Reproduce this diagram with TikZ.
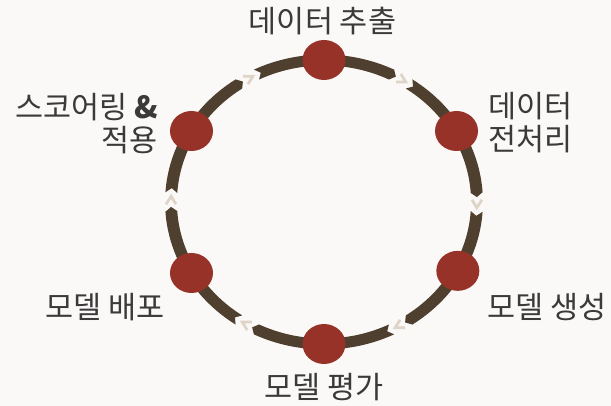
\documentclass[tikz,border=0pt]{standalone}
\usepackage{fontspec}
\newfontfamily\kr{Noto Sans CJK KR}
\usetikzlibrary{shapes.geometric}
\definecolor{bg}{HTML}{FBF9F8}
\definecolor{ringc}{HTML}{4F3F2E}
\definecolor{dotc}{HTML}{963228}
\definecolor{chevc}{HTML}{DFD4C8}
\definecolor{txtc}{HTML}{3A3A3A}
\newcommand\ringseg[2]{%
  \fill[ringc] (#1:147.5) -- ({#1-1.8}:142) -- (#1:136.5)
    arc[start angle=#1, end angle=#2, radius=136.5]
    -- ({#2-1.8}:142) -- (#2:147.5)
    arc[start angle=#2, end angle=#1, radius=147.5] -- cycle;}
\newcommand\gapchev[1]{%
  \draw[chevstroke] ({#1+0.9}:146.6) -- ({#1-2.3}:142) -- ({#1+0.9}:137.4);}
\begin{document}
\begin{tikzpicture}[x=1pt,y=1pt,
  stepdot/.style={ellipse, fill=dotc, inner sep=0pt, minimum width=43pt, minimum height=40pt},
  lbl/.style={text=txtc, font=\kr\fontsize{30.5}{33}\selectfont, inner sep=0pt},
  chevstroke/.style={chevc, line width=2.8pt, line cap=butt, line join=miter}]
\fill[bg] (0,0) rectangle (611,406);
\useasboundingbox (0,0) rectangle (611,406);
\begin{scope}[shift={(324,204)}, xscale=1.0775]
  \ringseg{116.2}{63.8}
  \ringseg{56.2}{3.8}
  \ringseg{-3.8}{-56.2}
  \ringseg{-63.8}{-116.2}
  \ringseg{-123.8}{-176.2}
  \ringseg{176.2}{123.8}
  \gapchev{120}
  \gapchev{60}
  \gapchev{0}
  \gapchev{-60}
  \gapchev{-120}
  \gapchev{180}
  \node[stepdot] (d1) at (90:142) {};
  \node[stepdot] (d2) at (30:142) {};
  \node[stepdot] (d3) at (-29:142) {};
  \node[stepdot] (d4) at (-90:142) {};
  \node[stepdot] (d5) at (-150:142) {};
  \node[stepdot] (d6) at (150:142) {};
\end{scope}
\node[lbl] (t1) at (322.5,385) {데이터 추출};
\node[lbl, anchor=west, align=left] (t2) at (488,283) {데이터\\전처리};
\node[lbl, anchor=west] (t3) at (487,99) {모델 생성};
\node[lbl] (t4) at (324,19) {모델 평가};
\node[lbl, anchor=east] (t5) at (165,99) {모델 배포};
\node[lbl, anchor=east, align=right] (t6) at (158,282) {스코어링 {\bfseries\&}\\적용};
\end{tikzpicture}
\end{document}
